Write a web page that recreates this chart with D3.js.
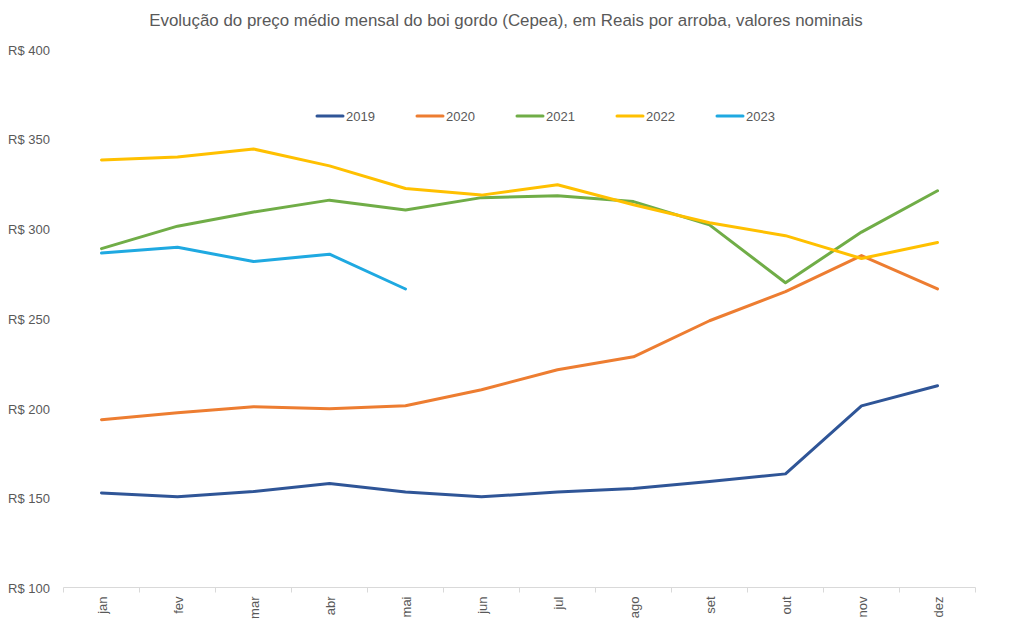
<!DOCTYPE html>
<html>
<head>
<meta charset="utf-8">
<script src="https://cdn.jsdelivr.net/npm/d3@7"></script>
<style>
  body { margin: 0; background: #fff; }
  text { font-family: "Liberation Sans", Arial, sans-serif; fill: #595959; }
</style>
</head>
<body>
<div id="chart"></div>
<script>
// months on the x axis
const months = ["jan", "fev", "mar", "abr", "mai", "jun", "jul", "ago", "set", "out", "nov", "dez"];
const yTicks = [100, 150, 200, 250, 300, 350, 400];

// monthly average price (R$/@)
const y2019 = [152.7, 150.5, 153.5, 157.9, 153.2, 150.5, 153.2, 155.1, 159.1, 163.3, 201.2, 212.4];
const y2020 = [193.5, 197.4, 200.7, 199.6, 201.3, 210.2, 221.3, 228.5, 248.6, 264.8, 284.9, 266.3];
const y2021 = [288.8, 301.3, 309.2, 315.8, 310.3, 317.2, 318.2, 315.0, 302.0, 269.8, 298.0, 321.0];
const y2022 = [338.2, 339.8, 344.3, 334.9, 322.3, 318.6, 324.4, 313.2, 303.2, 296.0, 283.3, 292.2];
const y2023 = [286.3, 289.5, 281.6, 285.7, 266.3];

const seriesNames = ["2019", "2020", "2021", "2022", "2023"];
const seriesValues = [y2019, y2020, y2021, y2022, y2023];
const seriesColors = ["#2F5597", "#ED7D31", "#70AD47", "#FFC000", "#1FA9E1"];

const width = 1013, height = 630;
const svg = d3.select("#chart").append("svg")
    .attr("width", width)
    .attr("height", height);

const x = d3.scaleBand().domain(months).range([63.5, 975.5]);
const y = d3.scaleLinear().domain([100, 400]).range([587.5, 49]);

// title
svg.append("text")
    .attr("x", 506)
    .attr("y", 26)
    .attr("text-anchor", "middle")
    .style("font-size", "16.9px")
    .text("Evolução do preço médio mensal do boi gordo (Cepea), em Reais por arroba, valores nominais");

// y labels (no axis line)
svg.append("g").selectAll("text")
    .data(yTicks)
    .enter().append("text")
    .attr("x", 8)
    .attr("y", d => y(d) + 5.5)
    .style("font-size", "13px")
    .text(d => "R$ " + d);

// x axis
const xAxisG = svg.append("g").attr("transform", "translate(0," + y(100) + ")");
xAxisG.append("line")
    .attr("x1", x.range()[0]).attr("x2", x.range()[1])
    .attr("stroke", "#d9d9d9").attr("stroke-width", 1);
const bounds = months.map(m => x(m)).concat([x.range()[1]]);
xAxisG.selectAll("line.tick")
    .data(bounds)
    .enter().append("line")
    .attr("class", "tick")
    .attr("x1", d => d).attr("x2", d => d)
    .attr("y1", 0).attr("y2", 5)
    .attr("stroke", "#d9d9d9");
xAxisG.selectAll("text")
    .data(months)
    .enter().append("text")
    .attr("transform", d => "translate(" + (x(d) + x.bandwidth() / 2 + 5) + ",9) rotate(-90)")
    .attr("text-anchor", "end")
    .style("font-size", "13px")
    .text(d => d);

// lines
const line = d3.line()
    .x((d, i) => x(months[i]) + x.bandwidth() / 2)
    .y(d => y(d));

svg.append("g").selectAll("path")
    .data(seriesValues)
    .enter().append("path")
    .attr("d", d => line(d))
    .attr("fill", "none")
    .attr("stroke", (d, i) => seriesColors[i])
    .attr("stroke-width", 3)
    .attr("stroke-linejoin", "round")
    .attr("stroke-linecap", "round");

// legend
const legend = svg.append("g").selectAll("g")
    .data(seriesNames)
    .enter().append("g")
    .attr("transform", (d, i) => "translate(" + (317 + i * 100) + ",116)");
legend.append("line")
    .attr("x1", 0).attr("x2", 26)
    .attr("stroke", (d, i) => seriesColors[i])
    .attr("stroke-width", 3)
    .attr("stroke-linecap", "round");
legend.append("text")
    .attr("x", 29)
    .attr("y", 5)
    .style("font-size", "13px")
    .text(d => d);
</script>
</body>
</html>
